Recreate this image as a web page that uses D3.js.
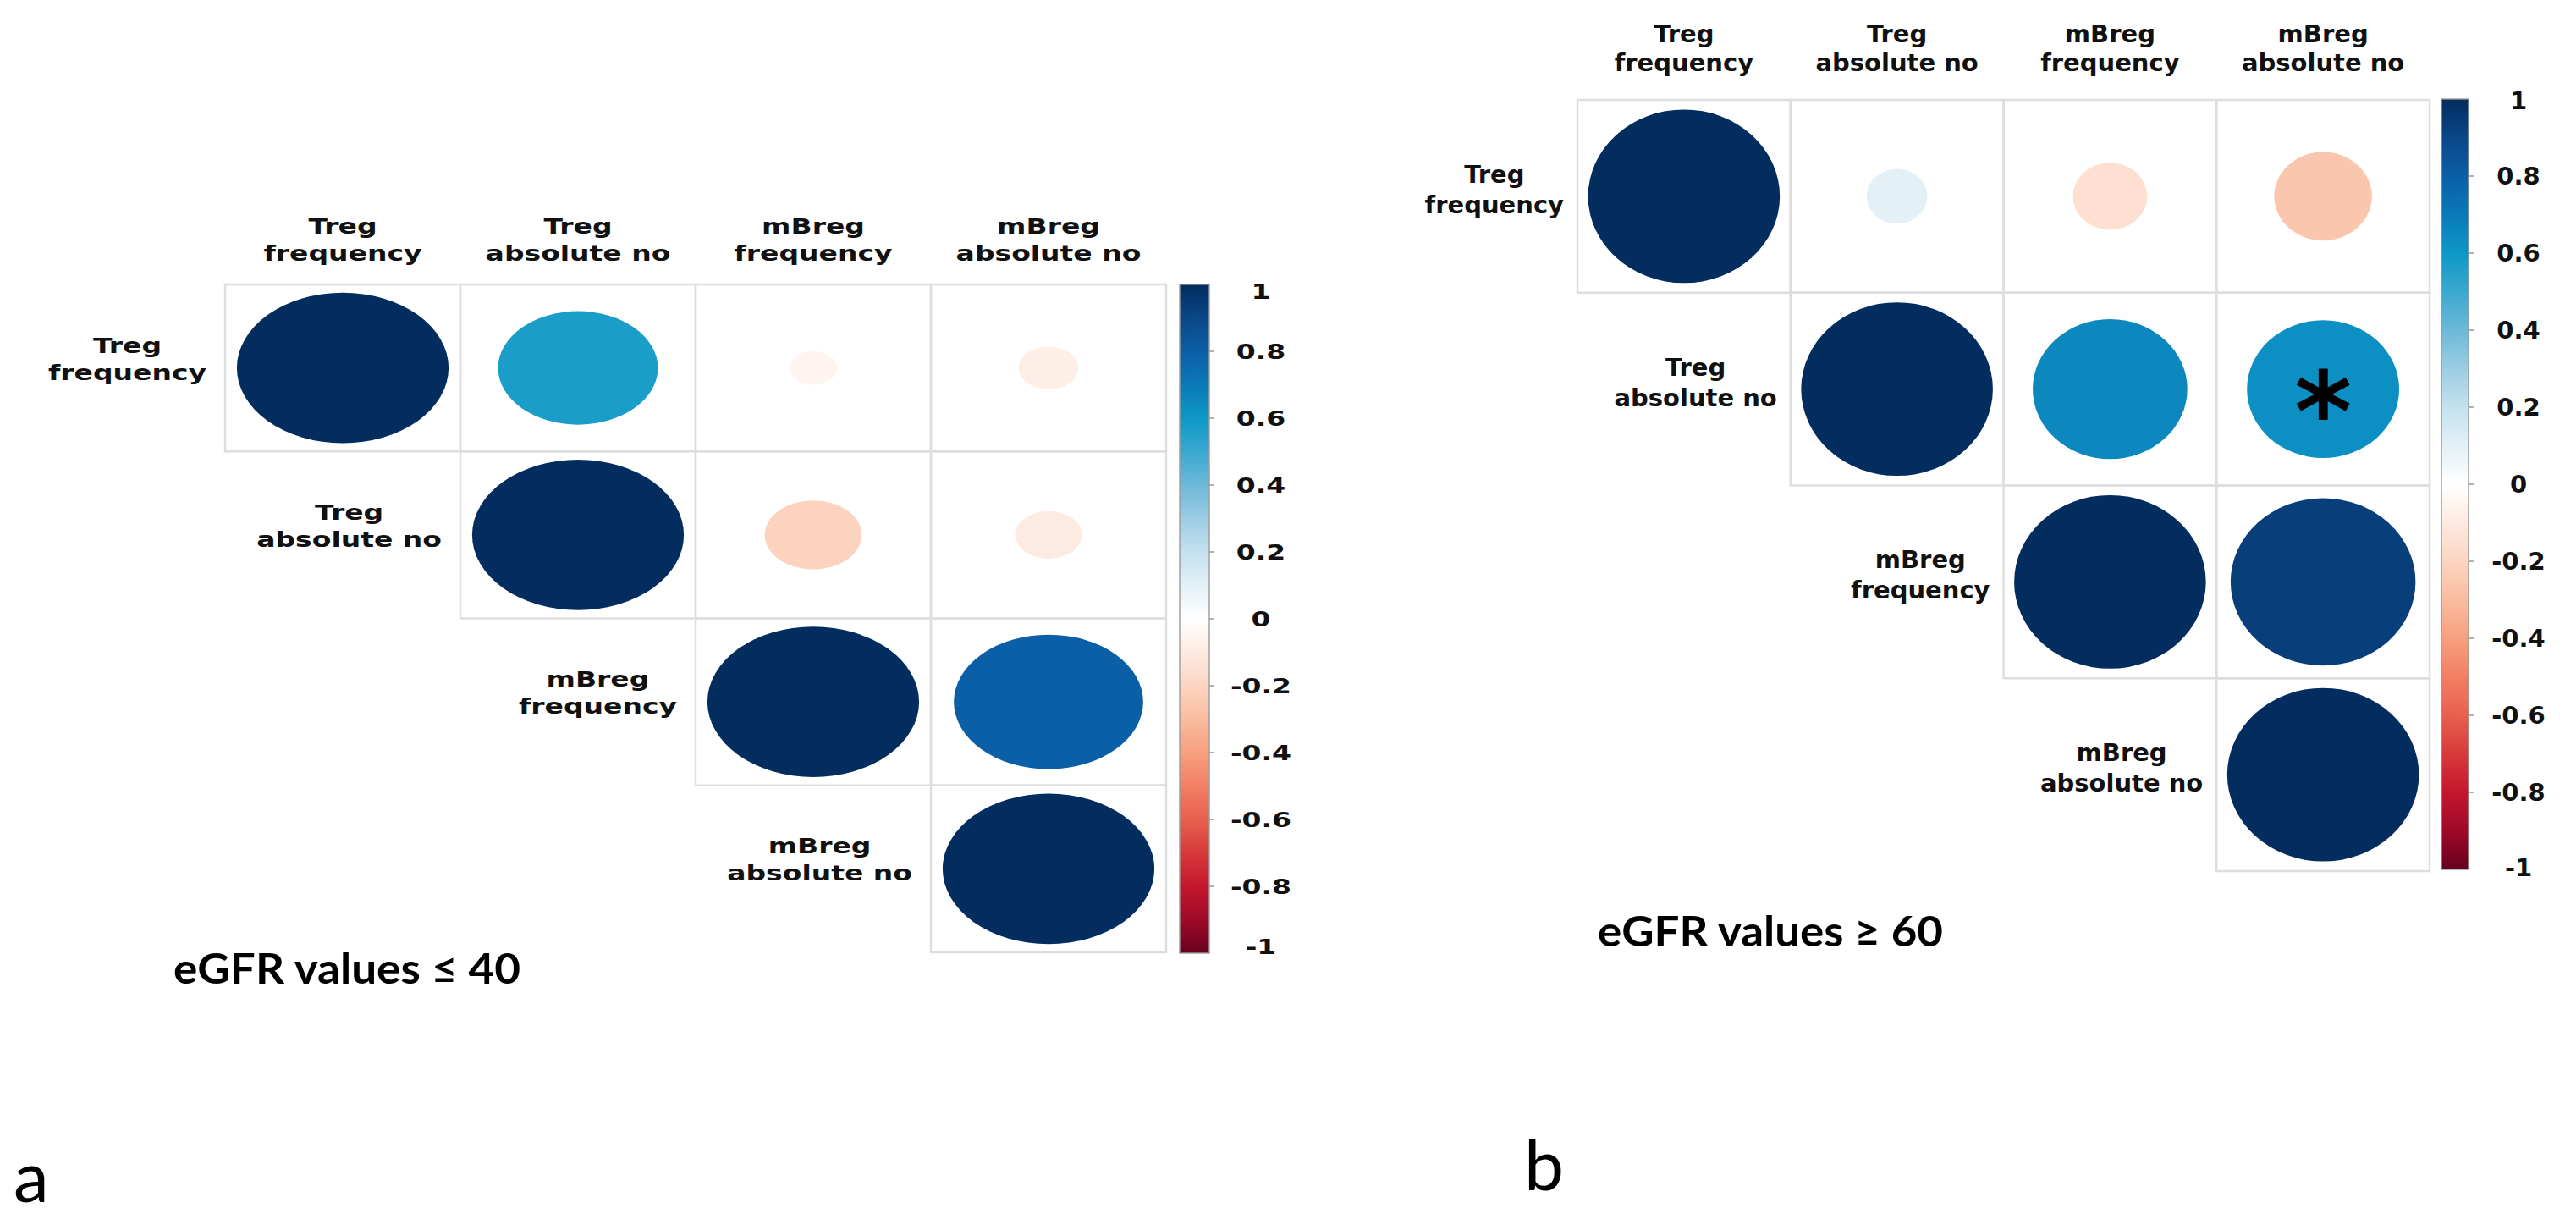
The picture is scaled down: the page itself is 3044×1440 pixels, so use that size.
<!DOCTYPE html>
<html><head><meta charset="utf-8">
<script src="https://cdn.jsdelivr.net/npm/d3@7"></script>
<style>html,body{margin:0;padding:0;background:#fff;} svg{display:block}</style>
</head><body>
<svg id="chart" width="3044" height="1440"></svg>
<script>
// ---------------- data ----------------
const varTop = ["Treg", "Treg", "mBreg", "mBreg"];
const varBottom = ["frequency", "absolute no", "frequency", "absolute no"];

// eGFR <= 40
const corrLow = [
  [1.00, 0.57, -0.05, -0.08],
  [0.57, 1.00, -0.21, -0.10],
  [-0.05, -0.21, 1.00, 0.80],
  [-0.08, -0.10, 0.80, 1.00]
];
// eGFR >= 60
const corrHigh = [
  [1.00, 0.10, -0.15, -0.26],
  [0.10, 1.00, 0.65, 0.63],
  [-0.15, 0.65, 1.00, 0.93],
  [-0.26, 0.63, 0.93, 1.00]
];
const sigLow = [];
const sigHigh = [[1, 3]];

const titleLow = "eGFR values \u2264 40";
const titleHigh = "eGFR values \u2265 60";
const panelLetters = ["a", "b"];

const legendTicks = [1, 0.8, 0.6, 0.4, 0.2, 0, -0.2, -0.4, -0.6, -0.8, -1];
const legendTickLabels = ["1", "0.8", "0.6", "0.4", "0.2", "0", "-0.2", "-0.4", "-0.6", "-0.8", "-1"];

const colorStopValues = [-1, -0.9, -0.8, -0.7, -0.6, -0.5, -0.4, -0.3, -0.2, -0.1, 0,
                         0.1, 0.2, 0.3, 0.4, 0.5, 0.6, 0.7, 0.8, 0.9, 1];
const colorStopColors = ["#67001f", "#9e0a28", "#c4162e", "#d73a3a", "#e8604f", "#f27f64",
                         "#f7a07f", "#f9bc9f", "#fcd5c2", "#fdeae0", "#ffffff",
                         "#e3f0f6", "#c4e1ee", "#9ccde3", "#6cb9d9", "#3ba8d0",
                         "#0d98c6", "#0b79b7", "#0b5fa6", "#0a4788", "#032d5e"];

// ---------------- layout ----------------
const panels = [
  { corr: corrLow, sig: sigLow, title: titleLow, letter: panelLetters[0],
    x0: 266, x1: 1378, y0: 336, y1: 1125,
    barX: 1394, barW: 35, barY0: 336, barY1: 1126, labelX: 1490, labelInset: 8,
    fs: 25, sx: 1.32, headGap: 28, lineGap: 32, rowGap: 22, rowDy1: -18, rowDy2: 14,
    titleX: 205, titleY: 1162, titleLen: 410,
    letterX: 16, letterY: 1420 },
  { corr: corrHigh, sig: sigHigh, title: titleHigh, letter: panelLetters[1],
    x0: 1864, x1: 2871, y0: 118, y1: 1029,
    barX: 2885, barW: 32, barY0: 117, barY1: 1027, labelX: 2976, labelInset: 2,
    fs: 29, sx: 1.0, headGap: 34, lineGap: 34, rowGap: 16, rowDy1: -16, rowDy2: 18,
    titleX: 1888, titleY: 1118, titleLen: 408,
    letterX: 1801, letterY: 1406 }
];

const svg = d3.select("#chart");
const color = d3.scaleLinear().domain(colorStopValues).range(colorStopColors).clamp(true);
const defs = svg.append("defs");
const labelFont = "'DejaVu Sans', Verdana, sans-serif";
const idx = d3.range(varTop.length);

function stretchedText(g, x, y, txt, p, anchor) {
  g.append("text")
    .attr("transform", `translate(${x},${y}) scale(${p.sx},1)`)
    .attr("text-anchor", anchor)
    .attr("font-family", labelFont)
    .attr("font-weight", "bold")
    .attr("font-size", p.fs)
    .attr("fill", "#111")
    .text(txt);
}

panels.forEach((p, pi) => {
  const g = svg.append("g");
  const xs = d3.scaleBand().domain(idx).range([p.x0, p.x1]);
  const ys = d3.scaleBand().domain(idx).range([p.y0, p.y1]);
  const bw = xs.bandwidth(), bh = ys.bandwidth();

  const cells = [];
  idx.forEach(i => idx.forEach(j => { if (j >= i) cells.push({ i, j, v: p.corr[i][j] }); }));

  // cell grid
  g.selectAll("rect.cell").data(cells).join("rect")
    .attr("class", "cell")
    .attr("x", d => xs(d.j)).attr("y", d => ys(d.i))
    .attr("width", bw).attr("height", bh)
    .attr("fill", "none").attr("stroke", "#dedede").attr("stroke-width", 2.5);

  // circles (area ~ |r|)
  g.selectAll("ellipse").data(cells).join("ellipse")
    .attr("cx", d => xs(d.j) + bw / 2)
    .attr("cy", d => ys(d.i) + bh / 2)
    .attr("rx", d => 0.45 * bw * Math.sqrt(Math.abs(d.v)))
    .attr("ry", d => 0.45 * bh * Math.sqrt(Math.abs(d.v)))
    .attr("fill", d => color(d.v));

  // significance stars
  p.sig.forEach(([i, j]) => {
    g.append("text")
      .attr("transform", `translate(${xs(j) + bw / 2},${ys(i) + bh / 2 + 72}) scale(${p.sx},1)`)
      .attr("text-anchor", "middle")
      .attr("font-family", labelFont).attr("font-weight", "bold")
      .attr("font-size", 130).attr("fill", "#000")
      .text("*");
  });

  // column headers
  idx.forEach(j => {
    const cx = xs(j) + bw / 2;
    stretchedText(g, cx, p.y0 - p.headGap - p.lineGap, varTop[j], p, "middle");
    stretchedText(g, cx, p.y0 - p.headGap, varBottom[j], p, "middle");
  });

  // row labels (diagonal)
  idx.forEach(i => {
    const cy = ys(i) + bh / 2;
    const right = xs(i) - p.rowGap;
    // center both lines on each other, block right-aligned
    const tmp = g.append("text").attr("font-family", labelFont).attr("font-weight", "bold")
      .attr("font-size", p.fs).text(varBottom[i]);
    const w2 = tmp.node().getComputedTextLength() * p.sx;
    tmp.text(varTop[i]);
    const w1 = tmp.node().getComputedTextLength() * p.sx;
    tmp.remove();
    const cxText = right - Math.max(w1, w2) / 2;
    stretchedText(g, cxText, cy + p.rowDy1, varTop[i], p, "middle");
    stretchedText(g, cxText, cy + p.rowDy2 + (p.lineGap - 32), varBottom[i], p, "middle");
  });

  // color legend
  const gradId = "grad" + pi;
  const grad = defs.append("linearGradient").attr("id", gradId)
    .attr("x1", 0).attr("y1", 1).attr("x2", 0).attr("y2", 0);
  colorStopValues.forEach((v, k) => {
    grad.append("stop").attr("offset", (v + 1) / 2).attr("stop-color", colorStopColors[k]);
  });
  const ly = d3.scaleLinear().domain([-1, 1]).range([p.barY1, p.barY0]);
  g.append("rect")
    .attr("x", p.barX).attr("y", p.barY0)
    .attr("width", p.barW).attr("height", p.barY1 - p.barY0)
    .attr("fill", `url(#${gradId})`)
    .attr("stroke", "#9a9a9a").attr("stroke-width", 2).attr("stroke-opacity", 0.7);
  g.selectAll("line.tick").data(legendTicks.filter(v => Math.abs(v) < 1)).join("line")
    .attr("class", "tick")
    .attr("x1", p.barX + p.barW).attr("x2", p.barX + p.barW + 6)
    .attr("y1", d => ly(d)).attr("y2", d => ly(d))
    .attr("stroke", "#999").attr("stroke-width", 1.5);
  legendTicks.forEach((v, k) => {
    const yy = Math.max(p.barY0 + p.labelInset, Math.min(p.barY1 - p.labelInset, ly(v)));
    g.append("text")
      .attr("transform", `translate(${p.labelX},${yy}) scale(${p.sx},1)`)
      .attr("text-anchor", "middle")
      .attr("dominant-baseline", "central")
      .attr("font-family", labelFont).attr("font-weight", "bold")
      .attr("font-size", p.fs).attr("fill", "#111")
      .text(legendTickLabels[k]);
  });

  // subgroup title
  g.append("text")
    .attr("x", p.titleX).attr("y", p.titleY)
    .attr("font-family", "Lato, 'Open Sans', sans-serif")
    .attr("font-weight", "bold").attr("font-size", 50)
    .attr("textLength", p.titleLen).attr("lengthAdjust", "spacingAndGlyphs")
    .attr("fill", "#000")
    .text(p.title);

  // panel letter
  g.append("text")
    .attr("x", p.letterX).attr("y", p.letterY)
    .attr("font-family", "Lato, 'Open Sans', sans-serif")
    .attr("font-size", 84).attr("fill", "#000")
    .text(p.letter);
});
</script>
</body></html>
